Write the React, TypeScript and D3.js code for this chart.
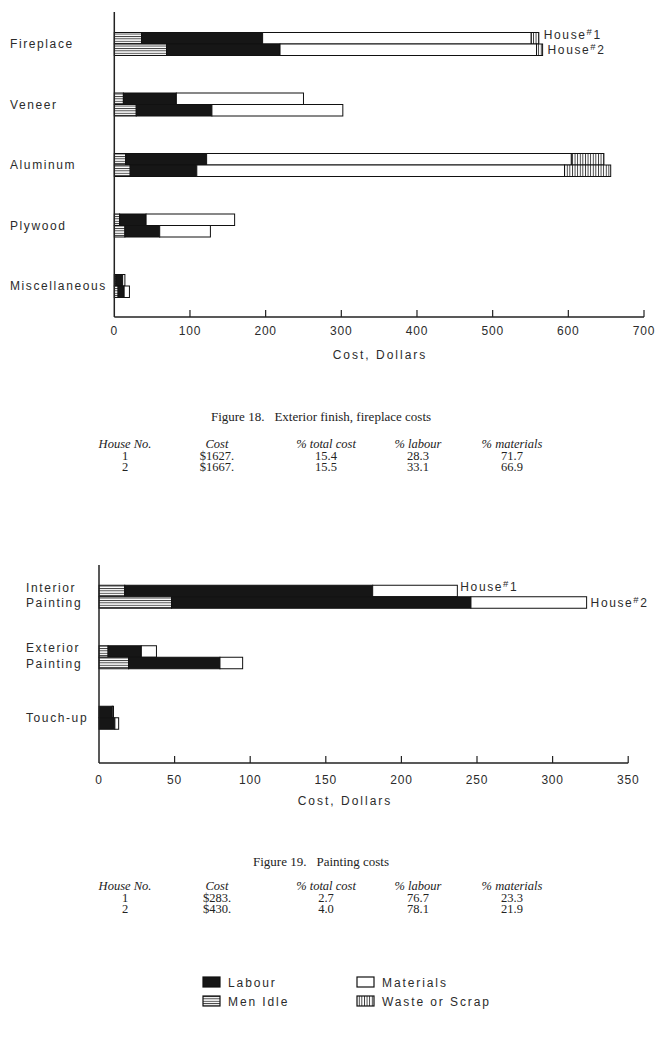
import React from "react";
import * as d3 from "d3";

// ---------- Figure 18 data (dollars) ----------
const topCategories = ["Fireplace", "Veneer", "Aluminum", "Plywood", "Miscellaneous"];
const topH1MenIdle = [36, 12, 15, 7, 2];
const topH1Labour = [160, 70, 107, 35, 9];
const topH1Materials = [355, 168, 482, 117, 3];
const topH1Waste = [10, 0, 43, 0, 0];
const topH2MenIdle = [69, 29, 21, 14, 5];
const topH2Labour = [150, 100, 88, 46, 8];
const topH2Materials = [339, 173, 486, 67, 7];
const topH2Waste = [8, 0, 61, 0, 0];
const topTicks = [0, 100, 200, 300, 400, 500, 600, 700];

// ---------- Figure 19 data (dollars) ----------
const botCategories = ["Interior Painting", "Exterior Painting", "Touch-up"];
const botH1MenIdle = [17, 6, 0];
const botH1Labour = [164, 22, 8.8];
const botH1Materials = [56, 10, 0.8];
const botH1Waste = [0, 0, 0];
const botH2MenIdle = [48, 19.6, 0];
const botH2Labour = [198, 60.4, 10.5];
const botH2Materials = [76.5, 15, 2.5];
const botH2Waste = [0, 0, 0];
const botTicks = [0, 50, 100, 150, 200, 250, 300, 350];

// ---------- tables ----------
const tableHeaders = ["House No.", "Cost", "% total cost", "% labour", "% materials"];
const table18Rows = [
  ["1", "$1627.", "15.4", "28.3", "71.7"],
  ["2", "$1667.", "15.5", "33.1", "66.9"],
];
const table19Rows = [
  ["1", "$283.", "2.7", "76.7", "23.3"],
  ["2", "$430.", "4.0", "78.1", "21.9"],
];

const keys = ["menIdle", "labour", "materials", "waste"];
const legendItems = [
  { key: "labour", label: "Labour" },
  { key: "menIdle", label: "Men Idle" },
  { key: "materials", label: "Materials" },
  { key: "waste", label: "Waste or Scrap" },
];

const SANS = "'Liberation Sans', Arial, sans-serif";
const SERIF = "'Liberation Serif', 'Times New Roman', serif";
const INK = "#2b2b2b";

function fillFor(key: string) {
  if (key === "labour") return "#161616";
  if (key === "materials") return "#ffffff";
  if (key === "menIdle") return "url(#hatchH)";
  return "url(#hatchV)";
}

function buildRows(cats: string[], idle: number[], lab: number[], mat: number[], waste: number[]) {
  return cats.map((c, i) => ({ cat: c, menIdle: idle[i], labour: lab[i], materials: mat[i], waste: waste[i] }));
}

type ChartProps = {
  cats: string[];
  h1: any[];
  h2: any[];
  ticks: number[];
  xRange: [number, number];
  bandRange: [number, number];
  axisY: number;
  axisTop: number;
  labelX: number;
  titleX: number;
  titleY: number;
  tickLabelY: number;
  houseOffsets: [number, number];
};

function BarChart(p: ChartProps) {
  const x = d3.scaleLinear().domain([p.ticks[0], p.ticks[p.ticks.length - 1]]).range(p.xRange);
  const y = d3.scaleBand().domain(p.cats).range(p.bandRange).padding(0);
  const barH = 11.5;
  const stack = d3.stack<any>().keys(keys);
  const s1 = stack(p.h1);
  const s2 = stack(p.h2);
  const center = (c: string) => (y(c) as number) + y.bandwidth() / 2;

  const renderHouse = (series: any[], houseIdx: number) =>
    series.map((layer) =>
      layer.map((d: any, i: number) => {
        const w = x(d[1]) - x(d[0]);
        if (w <= 0.01) return null;
        const c = center(p.cats[i]);
        const top = houseIdx === 0 ? c - barH : c;
        return (
          <rect
            key={`${houseIdx}-${layer.key}-${i}`}
            x={x(d[0])}
            y={top}
            width={w}
            height={barH}
            fill={fillFor(layer.key)}
            stroke="#111"
            strokeWidth={1}
          />
        );
      })
    );

  const c0 = center(p.cats[0]);
  const tot1 = keys.reduce((a, k) => a + p.h1[0][k], 0);
  const tot2 = keys.reduce((a, k) => a + p.h2[0][k], 0);

  const houseLabel = (n: number, xx: number, yy: number) => (
    <text x={xx} y={yy} fontFamily={SANS} fontSize={12} fill={INK} letterSpacing={1.6}>
      House
      <tspan fontSize={9.5} dy={-4}>#</tspan>
      <tspan fontSize={12} dy={4}>{n}</tspan>
    </text>
  );

  return (
    <g>
      {renderHouse(s1, 0)}
      {renderHouse(s2, 1)}
      {/* axes */}
      <line x1={p.xRange[0]} x2={p.xRange[0]} y1={p.axisTop} y2={p.axisY} stroke="#222" strokeWidth={1.5} />
      <line x1={p.xRange[0]} x2={p.xRange[1]} y1={p.axisY} y2={p.axisY} stroke="#222" strokeWidth={1.5} />
      {p.ticks.map((t) => (
        <g key={t}>
          {t !== p.ticks[0] && (
            <line x1={x(t)} x2={x(t)} y1={p.axisY} y2={p.axisY - 7} stroke="#222" strokeWidth={1.2} />
          )}
          <text x={x(t)} y={p.tickLabelY} textAnchor="middle" fontFamily={SANS} fontSize={12} fill={INK} letterSpacing={0.8}>
            {t}
          </text>
        </g>
      ))}
      <text x={p.titleX} y={p.titleY} textAnchor="middle" fontFamily={SANS} fontSize={12} fill={INK} letterSpacing={2}>
        Cost, Dollars
      </text>
      {/* category labels */}
      {p.cats.map((c) => {
        const parts = c.split(" ");
        const cy = center(c);
        if (parts.length === 1)
          return (
            <text key={c} x={p.labelX} y={cy + 4} fontFamily={SANS} fontSize={12} fill={INK} letterSpacing={1.6}>
              {c}
            </text>
          );
        return (
          <text key={c} fontFamily={SANS} fontSize={12} fill={INK} letterSpacing={1.6}>
            <tspan x={p.labelX} y={cy - 5}>{parts[0]}</tspan>
            <tspan x={p.labelX} y={cy + 10.5}>{parts[1]}</tspan>
          </text>
        );
      })}
      {houseLabel(1, x(tot1) + p.houseOffsets[0], c0 - 5.5)}
      {houseLabel(2, x(tot2) + p.houseOffsets[1], c0 + 10)}
    </g>
  );
}

function Caption({ num, title, y }: { num: number; title: string; y: number }) {
  return (
    <text x={321} y={y} textAnchor="middle" fontFamily={SERIF} fontSize={13} fill="#222">
      {`Figure ${num}.`}
      <tspan dx={10}>{title}</tspan>
    </text>
  );
}

const colX = [125, 217, 326, 418, 512];

function Table({ rows, y }: { rows: string[][]; y: number }) {
  return (
    <g fontFamily={SERIF} fontSize={12.5} fill="#222">
      {tableHeaders.map((h, i) => (
        <text key={h} x={colX[i]} y={y} textAnchor="middle" fontStyle="italic">
          {h}
        </text>
      ))}
      {rows.map((r, ri) =>
        r.map((v, i) => (
          <text key={`${ri}-${i}`} x={colX[i]} y={y + 12 + ri * 11.7} textAnchor="middle">
            {v}
          </text>
        ))
      )}
    </g>
  );
}

function Legend() {
  const pos = [
    { x: 203, y: 977 },
    { x: 203, y: 996 },
    { x: 357, y: 977 },
    { x: 357, y: 996 },
  ];
  return (
    <g>
      {legendItems.map((it, i) => (
        <g key={it.key}>
          <rect x={pos[i].x} y={pos[i].y} width={17} height={10} fill={fillFor(it.key)} stroke="#111" strokeWidth={1.2} />
          <text x={pos[i].x + 25} y={pos[i].y + 9.5} fontFamily={SANS} fontSize={12} fill={INK} letterSpacing={1.9}>
            {it.label}
          </text>
        </g>
      ))}
    </g>
  );
}

export default function App() {
  const top1 = buildRows(topCategories, topH1MenIdle, topH1Labour, topH1Materials, topH1Waste);
  const top2 = buildRows(topCategories, topH2MenIdle, topH2Labour, topH2Materials, topH2Waste);
  const bot1 = buildRows(botCategories, botH1MenIdle, botH1Labour, botH1Materials, botH1Waste);
  const bot2 = buildRows(botCategories, botH2MenIdle, botH2Labour, botH2Materials, botH2Waste);
  return (
    <svg
      width={664}
      height={1064}
      style={{ position: "absolute", left: 0, top: 0, display: "block", background: "#fff" }}
    >
      <defs>
        <pattern id="hatchH" patternUnits="userSpaceOnUse" width={4} height={2.4}>
          <rect width={4} height={2.4} fill="#fff" />
          <rect y={0} width={4} height={0.9} fill="#333" />
        </pattern>
        <pattern id="hatchV" patternUnits="userSpaceOnUse" width={2.6} height={4}>
          <rect width={2.6} height={4} fill="#fff" />
          <rect x={0} width={0.9} height={4} fill="#333" />
        </pattern>
      </defs>
      <rect width={664} height={1064} fill="#fff" />
      <BarChart
        cats={topCategories}
        h1={top1}
        h2={top2}
        ticks={topTicks}
        xRange={[114.3, 644]}
        bandRange={[13.75, 316.25]}
        axisY={317}
        axisTop={12}
        labelX={10}
        titleX={380}
        titleY={359}
        tickLabelY={335}
        houseOffsets={[5, 5]}
      />
      <Caption num={18} title="Exterior finish, fireplace costs" y={420.5} />
      <Table rows={table18Rows} y={447.5} />
      <BarChart
        cats={botCategories}
        h1={bot1}
        h2={bot2}
        ticks={botTicks}
        xRange={[99, 628.2]}
        bandRange={[566.5, 748]}
        axisY={763}
        axisTop={565}
        labelX={26}
        titleX={345}
        titleY={805}
        tickLabelY={784}
        houseOffsets={[3, 4]}
      />
      <Caption num={19} title="Painting costs" y={865.5} />
      <Table rows={table19Rows} y={889.5} />
      <Legend />
    </svg>
  );
}
